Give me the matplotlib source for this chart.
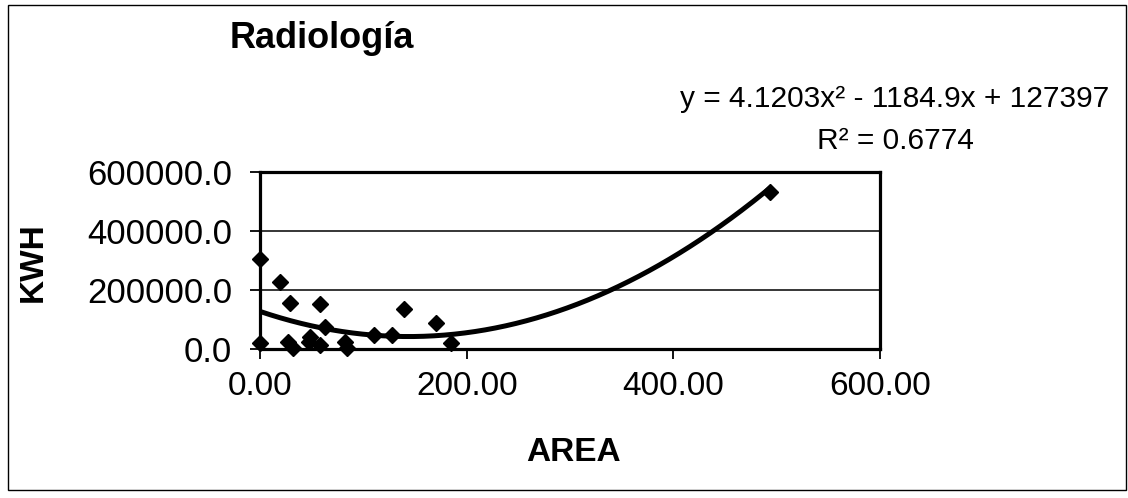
import numpy as np
import matplotlib
matplotlib.use("Agg")
import matplotlib.pyplot as plt
from matplotlib.patches import Rectangle

# --------------------------
# datos
# --------------------------
area = [0.0, 0.0, 19.4, 29.0, 57.6, 27.5, 32.0, 48.5, 47.0, 58.0, 63.0,
        82.5, 84.0, 110.0, 128.0, 139.0, 170.6, 184.5, 493.6]
kwh = [305000, 20000, 228000, 155000, 152000, 25000, 2000, 42000, 25000, 15000, 76000,
       25000, 2000, 47000, 47000, 136000, 89000, 21000, 531000]

# coeficientes de la línea de tendencia (polinómica, grado 2) tal como aparecen en la etiqueta
trend_coef = [4.1203, -1184.9, 127397]
r2 = 0.6774

x_ticks = [0, 200, 400, 600]
y_ticks = [0, 200000, 400000, 600000]

title = "Radiología"
x_label = "AREA"
y_label = "KWH"

# --------------------------
# figura
# --------------------------
plt.rcParams["font.family"] = ["Liberation Sans", "DejaVu Sans"]

fig = plt.figure(figsize=(11.28, 4.98), dpi=100)
ax = fig.add_axes([0.2305, 0.2992, 0.5497, 0.3554])

# línea de tendencia sobre el rango de datos
xs = np.linspace(min(area), max(area), 300)
ax.plot(xs, np.polyval(trend_coef, xs), color="black", linewidth=3.6, zorder=4)

# puntos (rombos negros)
ax.plot(area, kwh, linestyle="none", marker="D", markersize=8.5,
        color="black", zorder=3, clip_on=False)

ax.set_xlim(0, 600)
ax.set_ylim(0, 600000)
ax.set_xticks(x_ticks)
ax.set_yticks(y_ticks)
ax.set_xticklabels([f"{v:.2f}" for v in x_ticks])
ax.set_yticklabels([f"{v:.1f}" for v in y_ticks])

# cuadrícula horizontal (Excel)
for v in y_ticks[1:-1]:
    ax.axhline(v, color="black", linewidth=1.1, zorder=1)

for s in ax.spines.values():
    s.set_linewidth(2.3)
    s.set_color("black")

ax.tick_params(axis="both", direction="out", length=7, width=1.3,
               labelsize=24, colors="black")
ax.tick_params(axis="y", labelsize=25, pad=13)
ax.tick_params(axis="x", pad=9)

# textos
fig.text(322 / 1128, 1 - 38 / 498, title, fontsize=26, fontweight="bold",
         ha="center", va="center")
fig.text(895 / 1128, 1 - 120 / 498,
         f"y = {trend_coef[0]}x² - {abs(trend_coef[1])}x + {trend_coef[2]}\nR² = {r2}",
         fontsize=21.5, ha="center", va="center", multialignment="center",
         linespacing=1.6)
fig.text(573 / 1128, 1 - 452 / 498, x_label, fontsize=24, fontweight="bold",
         ha="center", va="center")
fig.text(33 / 1128, 1 - 262 / 498, y_label, fontsize=24, fontweight="bold",
         ha="center", va="center", rotation=90)

# marco exterior del gráfico
fig.patches.append(Rectangle((8 / 1128, 1 - 490 / 498), 1118 / 1128, 485 / 498,
                             transform=fig.transFigure, fill=False,
                             edgecolor="black", linewidth=1.0))

fig.savefig("out.png", dpi=100)
